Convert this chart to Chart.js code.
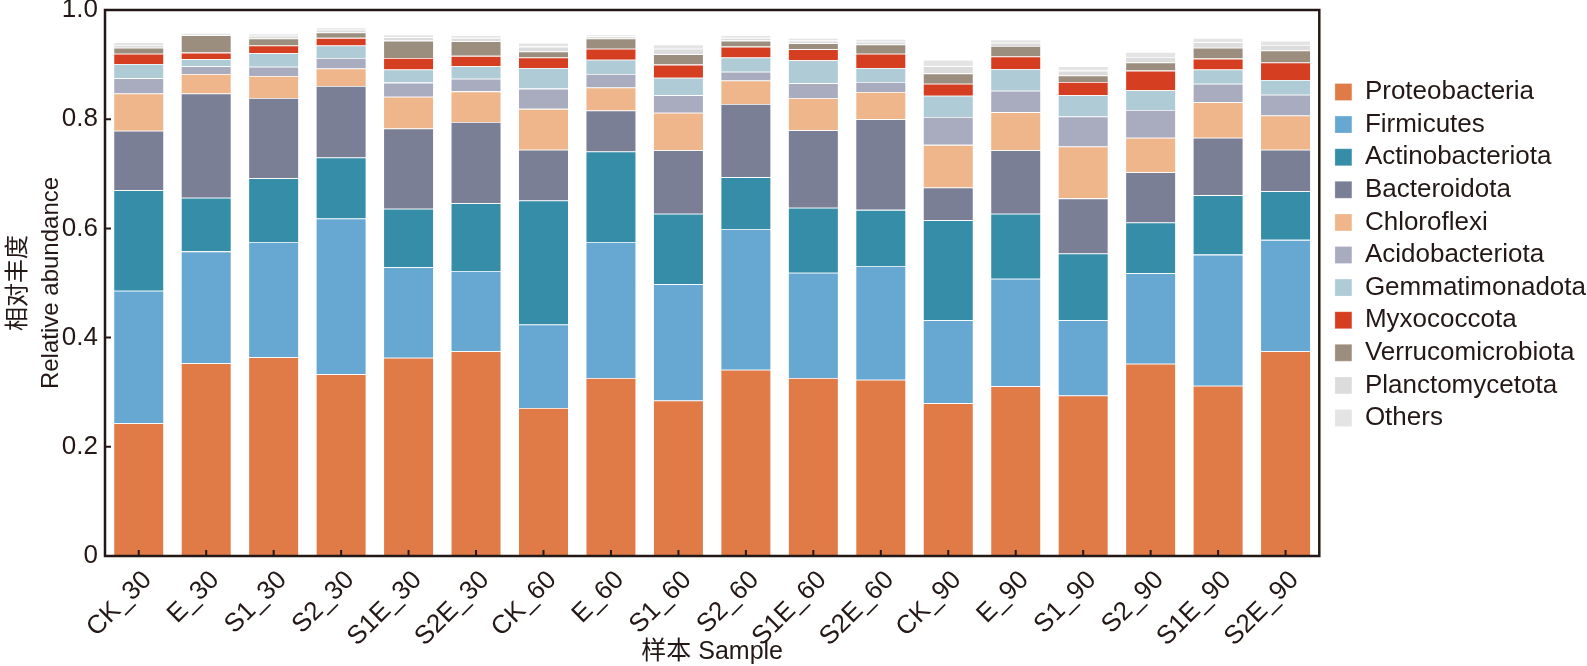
<!DOCTYPE html>
<html>
<head>
<meta charset="utf-8">
<script src="https://cdn.jsdelivr.net/npm/chart.js@4.4.1/dist/chart.umd.min.js"></script>
<style>
  html, body { margin: 0; padding: 0; background: #fff; }
  #wrap { width: 1587px; height: 666px; }
</style>
</head>
<body>
<div id="wrap"><canvas id="abundChart" width="1587" height="666"></canvas></div>
<script>
// Samples along the x axis
const samples = ['CK_30', 'E_30', 'S1_30', 'S2_30', 'S1E_30', 'S2E_30',
  'CK_60', 'E_60', 'S1_60', 'S2_60', 'S1E_60', 'S2E_60',
  'CK_90', 'E_90', 'S1_90', 'S2_90', 'S1E_90', 'S2E_90'];

// Phylum relative abundance, one value per sample
const proteobacteria   = [0.243, 0.353, 0.364, 0.333, 0.363, 0.375, 0.271, 0.326, 0.285, 0.341, 0.326, 0.323, 0.280, 0.311, 0.294, 0.352, 0.312, 0.375];
const firmicutes       = [0.243, 0.205, 0.211, 0.285, 0.166, 0.147, 0.153, 0.249, 0.213, 0.258, 0.193, 0.208, 0.152, 0.197, 0.138, 0.166, 0.240, 0.204];
const actinobacteriota = [0.184, 0.098, 0.117, 0.112, 0.107, 0.124, 0.227, 0.166, 0.129, 0.095, 0.119, 0.103, 0.183, 0.119, 0.122, 0.093, 0.109, 0.089];
const bacteroidota     = [0.109, 0.191, 0.147, 0.131, 0.147, 0.149, 0.093, 0.075, 0.116, 0.134, 0.142, 0.166, 0.060, 0.116, 0.101, 0.092, 0.105, 0.076];
const chloroflexi      = [0.068, 0.036, 0.040, 0.032, 0.058, 0.056, 0.075, 0.042, 0.069, 0.043, 0.059, 0.050, 0.078, 0.070, 0.095, 0.063, 0.065, 0.063];
const acidobacteriota  = [0.028, 0.014, 0.017, 0.019, 0.026, 0.023, 0.037, 0.025, 0.032, 0.016, 0.027, 0.018, 0.051, 0.039, 0.055, 0.051, 0.034, 0.038];
const gemmatimonadota  = [0.026, 0.013, 0.025, 0.023, 0.024, 0.023, 0.038, 0.026, 0.032, 0.026, 0.042, 0.026, 0.039, 0.040, 0.039, 0.036, 0.026, 0.027];
const myxococcota      = [0.019, 0.012, 0.014, 0.014, 0.021, 0.019, 0.019, 0.020, 0.024, 0.020, 0.020, 0.026, 0.022, 0.023, 0.024, 0.036, 0.020, 0.032];
const verrucomicrobiota= [0.011, 0.032, 0.013, 0.010, 0.032, 0.027, 0.011, 0.019, 0.019, 0.011, 0.011, 0.017, 0.019, 0.019, 0.012, 0.015, 0.020, 0.022];
const planctomycetota  = [0.005, 0.003, 0.005, 0.005, 0.006, 0.006, 0.009, 0.004, 0.010, 0.005, 0.005, 0.005, 0.013, 0.006, 0.009, 0.010, 0.010, 0.010];
const others           = [0.005, 0.002, 0.004, 0.004, 0.005, 0.005, 0.007, 0.003, 0.008, 0.005, 0.005, 0.005, 0.012, 0.006, 0.008, 0.009, 0.008, 0.008];

const phyla = ['Proteobacteria', 'Firmicutes', 'Actinobacteriota', 'Bacteroidota', 'Chloroflexi',
  'Acidobacteriota', 'Gemmatimonadota', 'Myxococcota', 'Verrucomicrobiota', 'Planctomycetota', 'Others'];
const series = [proteobacteria, firmicutes, actinobacteriota, bacteroidota, chloroflexi,
  acidobacteriota, gemmatimonadota, myxococcota, verrucomicrobiota, planctomycetota, others];
const colors = ['#E07B48', '#67A8D2', '#358DA8', '#7A7F96', '#EEB68A',
  '#A9ACBF', '#AFCCD6', '#D63E22', '#9C8E7E', '#DCDCDC', '#E4E4E4'];

const yTicks = [0, 0.2, 0.4, 0.6, 0.8, 1.0];

const ink = '#231815';
const fontFamily = "'Liberation Sans', Arial, 'Noto Sans CJK SC', sans-serif";

// Frame round the plot plus inward tick marks
const framePlugin = {
  id: 'frame',
  afterLayout(chart) {
    // nudge the legend a little right, like the original
    if (chart.legend) chart.legend.left += 9;
  },
  afterDraw(chart) {
    const { ctx, chartArea: a, scales } = chart;
    ctx.save();
    ctx.strokeStyle = ink;
    ctx.lineWidth = 2.5;
    ctx.strokeRect(a.left, a.top, a.right - a.left, a.bottom - a.top);
    ctx.lineWidth = 2;
    ctx.beginPath();
    samples.forEach((s, i) => {
      const x = scales.x.getPixelForValue(i);
      ctx.moveTo(x, a.bottom);
      ctx.lineTo(x, a.bottom - 6);
    });
    yTicks.forEach(v => {
      const y = scales.y.getPixelForValue(v);
      ctx.moveTo(a.left, y);
      ctx.lineTo(a.left + 6, y);
    });
    ctx.stroke();
    ctx.restore();
  }
};

const ctx = document.getElementById('abundChart').getContext('2d');

const config = {
  type: 'bar',
  data: {
    labels: samples,
    datasets: series.map((vals, i) => ({
      label: phyla[i],
      data: vals,
      backgroundColor: colors[i],
      borderColor: 'rgba(255,255,255,0.35)',
      borderWidth: 0.8,
      barPercentage: 0.75,
      categoryPercentage: 1.0
    }))
  },
  options: {
    responsive: false,
    animation: false,
    layout: { padding: { top: 0, right: 0, bottom: 8, left: 0 } },
    plugins: {
      tooltip: { enabled: false },
      legend: {
        position: 'right',
        align: 'start',
        title: { display: true, text: ' ', font: { size: 22 }, padding: { top: 0, bottom: 46 } },
        labels: {
          boxWidth: 17,
          boxHeight: 17,
          padding: 6.6,
          color: ink,
          font: { family: fontFamily, size: 26 }
        }
      }
    },
    scales: {
      x: {
        stacked: true,
        grid: { display: false, drawTicks: false },
        border: { display: false },
        afterFit: axis => { axis.height = 102; axis.paddingLeft = 0; },
        ticks: {
          color: ink,
          minRotation: 45,
          maxRotation: 45,
          autoSkip: false,
          padding: 9,
          labelOffset: 9,
          font: { family: fontFamily, size: 26 }
        },
        title: {
          display: true,
          text: '样本 Sample',
          color: ink,
          padding: { top: 0, bottom: -9 },
          font: { family: fontFamily, size: 25 }
        }
      },
      y: {
        stacked: true,
        min: 0,
        max: 1,
        grid: { display: false, drawTicks: false },
        border: { display: false },
        afterBuildTicks: axis => { axis.ticks = yTicks.map(v => ({ value: v })); },
        afterFit: axis => { axis.width = 105; axis.paddingTop = 10; axis.paddingBottom = 0; },
        ticks: {
          color: ink,
          padding: 7,
          font: { family: fontFamily, size: 26 },
          callback: v => (v === 0 ? '0' : v.toFixed(1))
        },
        title: {
          display: true,
          text: ['相对丰度', 'Relative abundance'],
          color: ink,
          padding: { top: 2, bottom: 0 },
          font: { family: fontFamily, size: 24, lineHeight: 1.375 }
        }
      }
    }
  },
  plugins: [framePlugin]
};

window.abundChart = new Chart(ctx, config);
</script>
</body>
</html>
